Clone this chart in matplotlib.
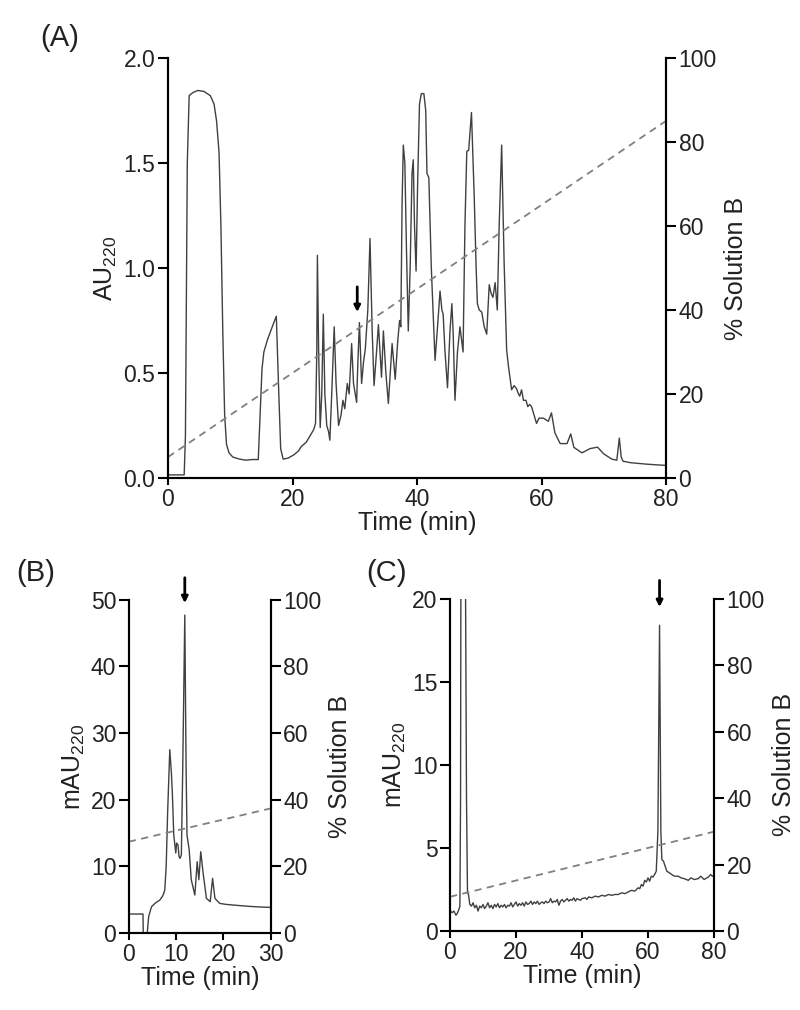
import numpy as np
import matplotlib
matplotlib.use("Agg")
import matplotlib.pyplot as plt

plt.rcParams['font.family'] = ['Liberation Sans', 'DejaVu Sans']
plt.rcParams['mathtext.fontset'] = 'custom'
plt.rcParams['mathtext.rm'] = 'Liberation Sans'
plt.rcParams['mathtext.default'] = 'regular'

# panel A trace: time (min), AU220
a_t = [0, 2.6, 2.8, 3.1, 3.4, 4.0, 4.8, 5.8, 6.8, 7.4, 7.8, 8.2, 8.5, 8.8, 9.1, 9.4, 9.8, 10.4,
       11.5, 12.5, 13.5, 14.5, 14.8, 15.1, 15.4, 16.0, 17.0, 17.4, 17.8, 18.1, 18.5, 19.3, 20.2,
       20.6, 21.0, 21.4, 21.8, 22.2, 22.6, 23.0, 23.4, 23.7, 23.9, 24.0, 24.2, 24.45, 24.7, 24.95,
       25.2, 25.5, 25.8, 26.0, 26.3, 26.7, 27.0, 27.4, 27.8, 28.1, 28.4, 28.8, 29.1, 29.5, 29.8,
       30.3, 30.5, 30.75, 31.1, 31.4, 31.7, 32.1, 32.45, 32.8, 33.1, 33.5, 33.8, 34.3, 34.6, 35.0,
       35.4, 35.7, 36.0, 36.5, 36.9, 37.2, 37.4, 37.6, 37.8, 38.05, 38.3, 38.6, 38.9, 39.2, 39.4,
       39.6, 39.85, 40.1, 40.4, 40.7, 41.1, 41.4, 41.6, 41.9, 42.3, 42.9, 43.3, 43.7, 44.0, 44.2,
       44.5, 44.9, 45.3, 45.6, 45.8, 46.1, 46.5, 46.9, 47.4, 47.7, 48.0, 48.3, 48.75, 49.2, 49.5,
       49.7, 50.0, 50.4, 50.8, 51.2, 51.6, 51.9, 52.2, 52.55, 52.9, 53.2, 53.6, 54.0, 54.4, 54.7,
       55.2, 55.6, 56.0, 56.3, 56.5, 56.8, 57.1, 57.5, 57.8, 58.1, 58.4, 58.8, 59.2, 59.6, 60.3,
       61.1, 61.6, 62.15, 63, 64.1, 64.7, 65.2, 66.5, 67.8, 69, 70, 71.3, 72.1, 72.5, 72.8, 73.1,
       74.3, 76.9, 80]
a_au = [0.015, 0.015, 0.2, 1.5, 1.82, 1.835, 1.845, 1.84, 1.82, 1.78, 1.70, 1.55, 1.2, 0.7, 0.3,
        0.16, 0.12, 0.10, 0.09, 0.085, 0.088, 0.088, 0.3, 0.52, 0.60, 0.66, 0.74, 0.77, 0.4, 0.14,
        0.09, 0.095, 0.11, 0.12, 0.13, 0.15, 0.16, 0.17, 0.19, 0.21, 0.23, 0.26, 0.6, 1.06, 0.6,
        0.24, 0.4, 0.78, 0.4, 0.25, 0.22, 0.18, 0.4, 0.72, 0.45, 0.25, 0.3, 0.37, 0.33, 0.45, 0.40,
        0.64, 0.45, 0.36, 0.55, 0.74, 0.45, 0.55, 0.615, 0.8, 1.14, 0.7, 0.44, 0.6, 0.73, 0.48,
        0.70, 0.50, 0.355, 0.5, 0.64, 0.47, 0.65, 0.75, 0.72, 1.3, 1.585, 1.5, 1.1, 0.70, 1.0, 1.45,
        1.515, 1.2, 0.985, 1.4, 1.78, 1.83, 1.83, 1.75, 1.45, 1.43, 1.0, 0.56, 0.72, 0.89, 0.8,
        0.78, 0.6, 0.43, 0.7, 0.83, 0.7, 0.37, 0.6, 0.72, 0.6, 1.2, 1.555, 1.56, 1.74, 1.33, 1.0,
        0.83, 0.80, 0.79, 0.72, 0.685, 0.92, 0.88, 0.86, 0.93, 0.80, 1.2, 1.585, 1.02, 0.61, 0.53,
        0.42, 0.44, 0.425, 0.40, 0.39, 0.42, 0.37, 0.37, 0.34, 0.35, 0.34, 0.3, 0.26, 0.285, 0.285,
        0.27, 0.31, 0.215, 0.164, 0.164, 0.21, 0.146, 0.12, 0.14, 0.147, 0.115, 0.09, 0.085, 0.19,
        0.10, 0.08, 0.073, 0.066, 0.06]
a_grad_t = [0, 80]
a_grad_b = [5, 85]
a_arrow_t = 30.4

# panel B trace: time (min), mAU220
b_t = [0, 3.0, 3.05, 3.9, 4.2, 4.8, 5.6, 6.55, 7.2, 7.6, 7.9, 8.2, 8.66, 9.0, 9.2, 9.5, 9.93,
       10.1, 10.4, 10.6, 10.8, 11.1, 11.4, 11.83, 12.1, 12.3, 12.75, 13.2, 13.95, 14.45, 14.8,
       15.2, 15.7, 16.4, 17.2, 17.7, 18.2, 19.2, 20.5, 22, 25.5, 28, 30]
b_mau = [2.85, 2.85, 0, 0, 2.5, 3.95, 4.5, 4.95, 5.6, 6.45, 10, 18, 27.5, 24, 21, 14.7, 12,
         13.5, 13.2, 11.5, 11.2, 11.7, 25, 47.7, 25, 14.7, 12.5, 8, 5.7, 10.7, 8, 12.2, 9, 5.2,
         4.7, 8.2, 5.2, 4.45, 4.3, 4.2, 4.0, 3.9, 3.85]
b_grad_t = [0, 30]
b_grad_b = [27.4, 37.4]
b_arrow_t = 11.83

# panel C trace: time (min), mAU220
c_t = [0, 0.6, 1.2, 1.8, 2.2, 2.7, 3.0, 3.2, 3.3, 4.7, 5.0, 5.3, 5.6, 6.0, 6.5, 7.0, 7.5, 8.0,
       8.5, 9.0, 9.5, 10, 10.5, 11, 11.5, 12, 12.5, 13, 13.5, 14, 14.5, 15, 15.5, 16, 16.5, 17,
       17.5, 18, 18.5, 19, 19.5, 20, 20.5, 21, 21.5, 22, 22.5, 23, 23.5, 24, 24.5, 25, 25.5, 26,
       26.5, 27, 27.5, 28, 28.5, 29, 29.5, 30, 30.5, 31, 31.5, 32, 32.5, 33, 33.5, 34, 34.5, 35,
       35.5, 36, 36.5, 37, 37.5, 38, 38.5, 39, 39.5, 40, 41, 41.5, 42, 43, 44, 45, 46, 47, 48, 49,
       50, 51, 52, 53, 54, 55, 56, 57, 57.5, 58, 58.5, 59, 59.5, 60, 60.5, 61, 61.5, 62, 62.5, 63,
       63.5, 63.9, 64.2, 64.7, 65.2, 65.7, 66.5, 67.2, 68, 69.2, 70, 71, 72.2, 73, 74, 75.2, 76,
       77, 78.3, 79, 79.5, 80]
c_mau = [1.26, 1.1, 1.2, 0.95, 1.06, 1.3, 1.5, 8, 21, 21, 8, 2.3, 2.2, 1.6, 1.5, 1.7, 1.4, 1.55,
         1.2, 1.5, 1.4, 1.6, 1.35, 1.5, 1.7, 1.4, 1.55, 1.35, 1.6, 1.45, 1.65, 1.4, 1.55, 1.45,
         1.6, 1.4, 1.55, 1.5, 1.7, 1.45, 1.6, 1.75, 1.5, 1.65, 1.55, 1.7, 1.5, 1.75, 1.6, 1.65,
         1.8, 1.6, 1.75, 1.65, 1.8, 1.6, 1.7, 1.75, 1.65, 1.8, 1.7, 1.75, 1.95, 1.7, 1.8, 1.75, 1.9,
         1.55, 1.8, 1.9, 1.75, 1.85, 1.95, 1.8, 1.9, 1.85, 2.0, 1.8, 1.95, 1.9, 1.85, 1.95, 2.0,
         1.9, 2.05, 2.0, 2.1, 2.05, 2.15, 2.1, 2.2, 2.15, 2.2, 2.2, 2.3, 2.25, 2.35, 2.45, 2.4, 2.6,
         2.55, 2.8, 2.7, 3.05, 2.95, 3.2, 3.0, 3.3, 3.25, 3.4, 3.6, 6, 18.4, 6, 4.3, 4.2, 3.9, 3.6,
         3.5, 3.4, 3.3, 3.3, 3.2, 3.15, 3.05, 3.2, 3.1, 3.15, 3.3, 3.1, 3.25, 3.4, 3.3, 3.35]
c_grad_t = [0, 80]
c_grad_b = [10.3, 29.9]
c_arrow_t = 63.5

trace_col = '#404040'
grad_col = '#808080'
txt_col = '#222222'


def panel(rect, t, y, gt, gb, xlim, ylim, xticks, yticks, yfmt, ylab, arrow_t, arrow_y):
    ax = fig.add_axes(rect)
    ax.plot(t, y, color=trace_col, lw=1.0)
    ax.set_xlim(*xlim)
    ax.set_ylim(*ylim)
    ax.set_xticks(xticks)
    ax.set_yticks(yticks)
    ax.set_yticklabels([yfmt.format(v) for v in yticks])
    ax.set_xlabel('Time (min)', fontsize=18, labelpad=0, color=txt_col)
    ax.set_ylabel(ylab, fontsize=18, labelpad=3, color=txt_col)
    ax.spines['top'].set_visible(False)
    ax2 = ax.twinx()
    ax2.plot(gt, gb, color=grad_col, lw=1.3, dashes=(4, 3))
    ax2.set_ylim(0, 100)
    ax2.set_yticks([0, 20, 40, 60, 80, 100])
    ax2.set_ylabel('% Solution B', fontsize=18, labelpad=5, color=txt_col)
    ax2.spines['top'].set_visible(False)
    for a in (ax, ax2):
        for s in a.spines.values():
            s.set_linewidth(1.5)
        a.tick_params(axis='y', length=7, width=1.5, labelsize=16.5, pad=2, labelcolor=txt_col)
        a.tick_params(axis='x', length=5, width=1.5, labelsize=16.5, pad=2, labelcolor=txt_col)
    ax.annotate('', xy=(arrow_t, arrow_y[0]), xytext=(arrow_t, arrow_y[1]),
                arrowprops=dict(arrowstyle='-|>', color='k', lw=2.0, mutation_scale=9,
                                shrinkA=0, shrinkB=0),
                annotation_clip=False)
    return ax


fig = plt.figure(figsize=(8, 10.1), dpi=100)

panel([0.21, 0.5267, 0.6225, 0.416], a_t, a_au, a_grad_t, a_grad_b, (0, 80), (0, 2.0),
      [0, 20, 40, 60, 80], [0, 0.5, 1.0, 1.5, 2.0], '{:.1f}', 'AU$_{220}$',
      a_arrow_t, (0.79, 0.91))
panel([0.161, 0.0762, 0.1775, 0.330], b_t, b_mau, b_grad_t, b_grad_b, (0, 30), (0, 50),
      [0, 10, 20, 30], [0, 10, 20, 30, 40, 50], '{:.0f}', 'mAU$_{220}$',
      b_arrow_t, (49.5, 53.3))
panel([0.5625, 0.0782, 0.33, 0.329], c_t, c_mau, c_grad_t, c_grad_b, (0, 80), (0, 20),
      [0, 20, 40, 60, 80], [0, 5, 10, 15, 20], '{:.0f}', 'mAU$_{220}$',
      c_arrow_t, (19.5, 21.1))

fig.text(0.075, 0.962, '(A)', fontsize=21, ha='center', va='center', color=txt_col)
fig.text(0.044, 0.433, '(B)', fontsize=21, ha='center', va='center', color=txt_col)
fig.text(0.483, 0.433, '(C)', fontsize=21, ha='center', va='center', color=txt_col)

fig.savefig('out.png', dpi=100)
